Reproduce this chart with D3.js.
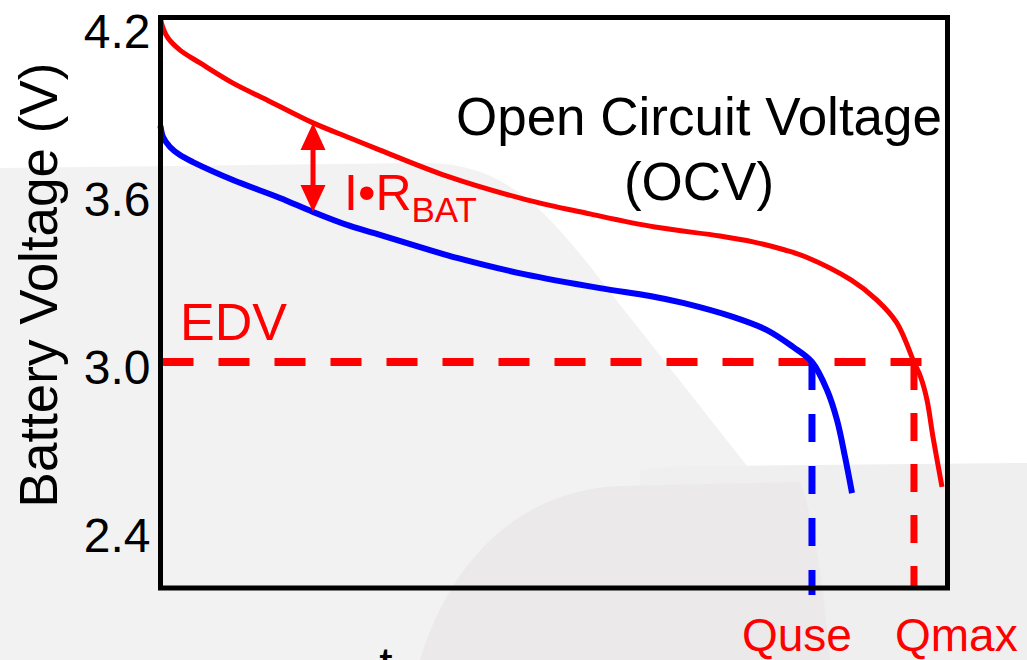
<!DOCTYPE html>
<html>
<head>
<meta charset="utf-8">
<script src="https://cdn.jsdelivr.net/npm/d3@7"></script>
<style>
  body { margin: 0; background: #fff; }
  text { font-family: "Liberation Sans", Arial, sans-serif; }
</style>
</head>
<body>
<div id="chart"></div>
<script>
// capacity (% of box width) and voltage
const ocvCap = [0, 0.32, 0.95, 2.48, 5.02, 9.21, 13.53, 19.38, 24.08, 27.89, 36.4, 46.19, 54.57, 62.83, 71.09, 75.29, 79.35, 82.02, 87.74, 91.04, 93.58, 95.74, 96.63, 97.4, 98.16, 99.3];
const ocvVolt = [4.225, 4.193, 4.157, 4.114, 4.068, 3.996, 3.936, 3.854, 3.8, 3.757, 3.664, 3.582, 3.529, 3.482, 3.45, 3.429, 3.4, 3.375, 3.293, 3.221, 3.139, 3.0, 2.943, 2.864, 2.732, 2.554];

const batCap = [0, 0.32, 1.21, 2.48, 4.13, 9.21, 15.18, 19.38, 24.08, 27.89, 34.24, 37.8, 46.19, 55.84, 62.2, 66.39, 72.74, 77.06, 80.37, 82.78, 84.69, 85.96, 86.98, 87.87];
const batVolt = [3.843, 3.804, 3.768, 3.739, 3.714, 3.65, 3.586, 3.536, 3.486, 3.454, 3.4, 3.371, 3.314, 3.264, 3.236, 3.211, 3.161, 3.114, 3.054, 3.0, 2.9, 2.793, 2.661, 2.532];

const yTicks = [4.2, 3.6, 3.0, 2.4];
const edv = 3.0;
const qUse = 82.78;
const qMax = 95.74;
const arrowCap = 19.38;
const arrowTop = 3.854;
const arrowBottom = 3.536;

const width = 1027,
  height = 660;

const svg = d3
  .select("#chart")
  .append("svg")
  .attr("width", width)
  .attr("height", height);

// faint watermark shapes in the background
svg.append("path")
  .attr("d", "M0,168 L420,163 C520,160 560,230 640,330 L900,660 L0,660 Z")
  .attr("fill", "#f2f2f2");
svg.append("path")
  .attr("d", "M640,470 Q660,466 720,466 L1027,463 L1027,660 L640,660 Z")
  .attr("fill", "#f0efef");
svg.append("path")
  .attr("d", "M420,660 C450,560 520,490 620,486 L800,482 C815,520 825,600 830,660 Z")
  .attr("fill", "#ebe9ea");

const x = d3.scaleLinear().domain([0, 100]).range([160.5, 947.5]);
const y = d3.scaleLinear().domain([4.2304, 2.193]).range([17.5, 588]);

const line = d3
  .line()
  .x((d) => x(d[0]))
  .y((d) => y(d[1]))
  .curve(d3.curveCatmullRom.alpha(0.5));

const red = "#ff0000",
  blue = "#0000ff";

// dashed guides
svg.append("line")
  .attr("x1", x(0) + 2)
  .attr("x2", x(100))
  .attr("y1", y(edv))
  .attr("y2", y(edv))
  .attr("stroke", red)
  .attr("stroke-width", 8)
  .attr("stroke-dasharray", "31,25");

svg.append("line")
  .attr("x1", x(qUse))
  .attr("x2", x(qUse))
  .attr("y1", y(edv))
  .attr("y2", 595)
  .attr("stroke", blue)
  .attr("stroke-width", 7)
  .attr("stroke-dasharray", "28,24");

svg.append("line")
  .attr("x1", x(qMax))
  .attr("x2", x(qMax))
  .attr("y1", y(edv))
  .attr("y2", 589)
  .attr("stroke", red)
  .attr("stroke-width", 7)
  .attr("stroke-dasharray", "28,23");

svg.append("path")
  .datum(ocvCap.map((c, i) => [c, ocvVolt[i]]))
  .attr("d", line)
  .attr("fill", "none")
  .attr("stroke", red)
  .attr("stroke-width", 5);

svg.append("path")
  .datum(batCap.map((c, i) => [c, batVolt[i]]))
  .attr("d", line)
  .attr("fill", "none")
  .attr("stroke", blue)
  .attr("stroke-width", 6);

// I*R arrow
const ax = x(arrowCap),
  at = y(arrowTop),
  ab = y(arrowBottom),
  hw = 12.5,
  hl = 27;
svg.append("line")
  .attr("x1", ax)
  .attr("x2", ax)
  .attr("y1", at + hl - 2)
  .attr("y2", ab - hl + 2)
  .attr("stroke", red)
  .attr("stroke-width", 5);
svg.append("path")
  .attr("d", `M${ax},${at} L${ax + hw},${at + hl} L${ax - hw},${at + hl} Z`)
  .attr("fill", red);
svg.append("path")
  .attr("d", `M${ax},${ab} L${ax + hw},${ab - hl} L${ax - hw},${ab - hl} Z`)
  .attr("fill", red);

// plot frame
svg.append("rect")
  .attr("x", x(0))
  .attr("y", y.range()[0])
  .attr("width", x(100) - x(0))
  .attr("height", y.range()[1] - y.range()[0])
  .attr("fill", "none")
  .attr("stroke", "#000")
  .attr("stroke-width", 5);

const yAxis = d3
  .axisLeft(y)
  .tickValues(yTicks)
  .tickSize(0)
  .tickPadding(10)
  .tickFormat(d3.format(".1f"));

const gy = svg.append("g")
  .attr("transform", "translate(" + x(0) + ",0)")
  .call(yAxis);
gy.select(".domain").remove();
gy.selectAll("text")
  .attr("dy", "0.44em")
  .attr("fill", "#000")
  .style("font-size", "48px")
  .style("font-family", '"Liberation Sans", Arial, sans-serif');

svg.append("text")
  .text("Battery Voltage (V)")
  .attr("transform", "translate(57,285) rotate(-90)")
  .attr("text-anchor", "middle")
  .style("font-size", "53px");

svg.append("text")
  .text("Open Circuit Voltage")
  .attr("x", 699)
  .attr("y", 135)
  .attr("text-anchor", "middle")
  .style("font-size", "53px");

svg.append("text")
  .text("(OCV)")
  .attr("x", 699)
  .attr("y", 200)
  .attr("text-anchor", "middle")
  .style("font-size", "53px");

const ir = svg.append("text")
  .attr("x", 344)
  .attr("y", 210)
  .attr("fill", red)
  .style("font-size", "50px");
ir.append("tspan").text("I•R");
ir.append("tspan")
  .text("BAT")
  .attr("dy", 12)
  .style("font-size", "35px");

svg.append("text")
  .text("EDV")
  .attr("x", 180)
  .attr("y", 340)
  .attr("fill", red)
  .style("font-size", "52px");

svg.append("text")
  .text("Quse")
  .attr("x", 742)
  .attr("y", 651)
  .attr("fill", red)
  .style("font-size", "46px");

svg.append("text")
  .text("Qmax")
  .attr("x", 895)
  .attr("y", 651)
  .attr("fill", red)
  .style("font-size", "46px");

// top of a cut-off label at the bottom edge
svg.append("text")
  .text("t")
  .attr("x", 386)
  .attr("y", 681)
  .attr("text-anchor", "middle")
  .style("font-size", "48px");
</script>
</body>
</html>
